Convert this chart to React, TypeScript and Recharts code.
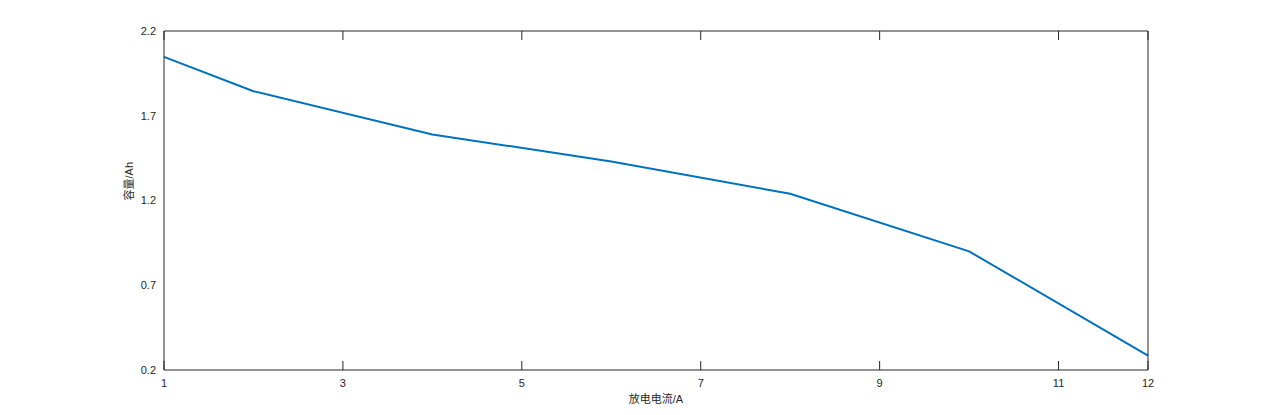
import React from 'react';
import { LineChart, Line, XAxis, YAxis } from 'recharts';

const currents = [1, 2, 4, 6, 8, 10, 12];
const capacity = [2.047, 1.845, 1.59, 1.43, 1.24, 0.9, 0.285];
const xTicks = [1, 3, 5, 7, 9, 11, 12];
const yTicks = [0.2, 0.7, 1.2, 1.7, 2.2];

const data = currents.map((c, i) => ({ current: c, cap: capacity[i] }));

const axisColor = '#262626';
const font = '"Liberation Sans", Arial, "Noto Sans CJK SC", sans-serif';
const tickStyle = { fill: axisColor, fontSize: 11, fontFamily: font };
const noLabel = () => <g />;
const inTick = { stroke: axisColor, strokeWidth: 1 };

const App = () => {
  return (
    <div style={{ position: 'absolute', left: 0, top: 0, width: 1268, height: 415, background: '#fff' }}>
      <LineChart width={1268} height={415} data={data} margin={{ top: 31, right: 120, bottom: 16, left: 105 }}>
        {/* bottom: labels + inward tick lines */}
        <XAxis xAxisId="b" dataKey="current" type="number" domain={[1, 12]} ticks={xTicks}
          tickLine={false} tick={tickStyle} tickMargin={3} height={29}
          axisLine={{ stroke: axisColor }}
          label={{ value: '放电电流/A', position: 'insideBottom', offset: -4, fill: axisColor, fontSize: 11, fontFamily: font }} />
        <XAxis xAxisId="bt" dataKey="current" type="number" domain={[1, 12]} ticks={xTicks}
          mirror tick={noLabel} tickLine={inTick} tickSize={9} height={1} axisLine={false} />
        {/* top frame */}
        <XAxis xAxisId="t" orientation="top" dataKey="current" type="number" domain={[1, 12]} ticks={xTicks}
          mirror tick={noLabel} tickLine={inTick} tickSize={9} height={1} axisLine={{ stroke: axisColor }} />
        {/* left: labels + inward tick lines */}
        <YAxis yAxisId="l" type="number" domain={[0.2, 2.2]} ticks={yTicks}
          tickLine={false} tick={tickStyle} tickMargin={2} width={59}
          tickFormatter={(v: number) => v.toFixed(1)}
          axisLine={{ stroke: axisColor }}
          label={{ value: '容量/Ah', angle: -90, position: 'insideLeft', offset: 24, fill: axisColor, fontSize: 11, fontFamily: font }} />
        <YAxis yAxisId="lt" type="number" domain={[0.2, 2.2]} ticks={yTicks}
          mirror tick={noLabel} tickLine={inTick} tickSize={9} width={1} axisLine={false} />
        {/* right frame */}
        <YAxis yAxisId="r" orientation="right" type="number" domain={[0.2, 2.2]} ticks={yTicks}
          mirror tick={noLabel} tickLine={inTick} tickSize={9} width={1} axisLine={{ stroke: axisColor }} />
        <Line xAxisId="b" yAxisId="l" type="linear" dataKey="cap" stroke="#0072BD" strokeWidth={2}
          dot={false} isAnimationActive={false} />
      </LineChart>
    </div>
  );
};

export default App;
